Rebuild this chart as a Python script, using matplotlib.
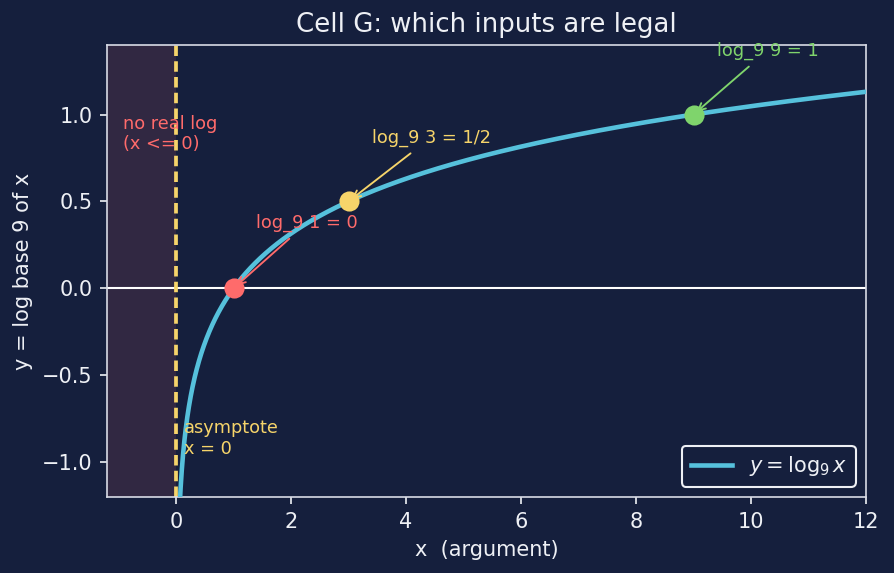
import numpy as np
import matplotlib
matplotlib.use("Agg")
import matplotlib.pyplot as plt

BG = "#151f3d"
CURVE = "#56c1dc"
RED = "#ff6b6b"
YEL = "#f6d46a"
GRN = "#7fd46c"
FG = "#eef0f5"

base = 9
pt_x = [1, 3, 9]
pt_y = [0, 0.5, 1]
pt_labels = ["log_9 1 = 0", "log_9 3 = 1/2", "log_9 9 = 1"]
pt_colors = [RED, YEL, GRN]
label_pos = [(1.4, 0.35), (3.4, 0.84), (9.4, 1.34)]

x = np.linspace(0.0005, 12, 3000)
y = np.log(x) / np.log(base)

DPI = 150
fig = plt.figure(figsize=(894/DPI, 573/DPI), dpi=DPI, facecolor=BG)
ax = fig.add_axes([107/894, 1-497/573, (866-107)/894, (497-45)/573])
ax.set_facecolor(BG)

ax.axvspan(-1.2, 0, color="#ff6b6b", alpha=0.12, lw=0)
ax.axhline(0, color="white", lw=1.0)
ax.axvline(0, color=YEL, lw=1.8, ls=(0, (2.8, 1.4)))
ax.plot(x, y, color=CURVE, lw=2.2, label=r"$y = \log_9 x$", zorder=3)

for px, py, lab, c, (tx, ty) in zip(pt_x, pt_y, pt_labels, pt_colors, label_pos):
    ax.scatter([px], [py], s=75, color=c, zorder=5)
    ax.annotate(lab, xy=(px, py), xytext=(tx, ty), color=c, fontsize=8.5,
                arrowprops=dict(arrowstyle="->", color=c, lw=0.9))

ax.text(-0.93, 1.0, "no real log\n(x <= 0)", color=RED, fontsize=8.5, va="top", ha="left")
ax.text(0.14, -0.75, "asymptote\nx = 0", color=YEL, fontsize=8.5, va="top", ha="left")

ax.set_xlim(-1.2, 12)
ax.set_ylim(-1.2, 1.4)
ax.set_xticks([0, 2, 4, 6, 8, 10, 12])
ax.set_yticks([-1.0, -0.5, 0.0, 0.5, 1.0])
ax.tick_params(colors=FG, labelsize=10)
for s in ax.spines.values():
    s.set_color("#d8dbe6")
ax.set_xlabel("x  (argument)", color=FG, fontsize=10)
ax.set_ylabel("y = log base 9 of x", color=FG, fontsize=10)
ax.set_title("Cell G: which inputs are legal", color=FG, fontsize=12.5)

leg = ax.legend(loc="lower right", fontsize=10, facecolor=BG, edgecolor=FG, labelcolor=FG)
leg.get_frame().set_alpha(1)

fig.savefig("out.png", dpi=DPI, facecolor=BG)
